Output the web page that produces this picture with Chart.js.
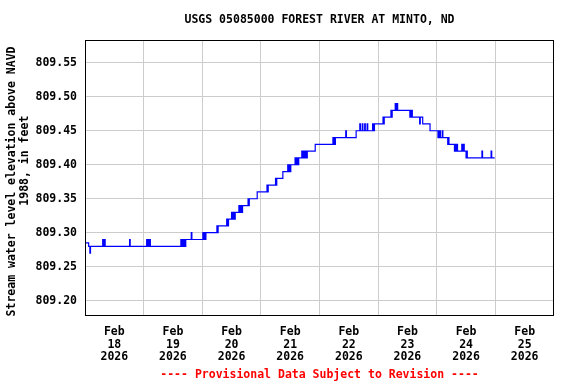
<!DOCTYPE html>
<html>
<head>
<meta charset="utf-8">
<script src="https://cdn.jsdelivr.net/npm/chart.js@4.4.1/dist/chart.umd.min.js"></script>
<style>
  body { margin: 0; background: #fff; }
  #wrap { width: 576px; height: 384px; }
</style>
</head>
<body>
<div id="wrap"><canvas id="myChart" width="576" height="384"></canvas></div>
<script>
// hours since Feb 18 2026 00:00, value holds until the next entry
let hours = [
  0, 1.5, 2.0, 2.25, 7.25, 7.5, 8.0, 8.25, 18.25, 18.5,
  25.25, 25.5, 25.75, 26.25, 26.5, 26.75, 39.25, 39.5, 39.75, 40.0,
  40.25, 40.5, 40.75, 41.0, 41.25, 43.5, 43.75, 48.25, 48.5, 48.75,
  49.25, 49.5, 54.0, 54.25, 54.5, 58.0, 58.25, 58.75, 60.0, 60.25,
  60.5, 60.75, 61.0, 61.25, 61.5, 63.0, 63.25, 63.5, 63.75, 64.0,
  64.25, 64.5, 66.75, 67.0, 67.25, 70.5, 74.5, 74.75, 75.0, 78.0,
  78.25, 78.5, 81.0, 83.0, 83.25, 83.75, 84.0, 84.25, 86.0, 86.25,
  86.5, 86.75, 87.0, 87.25, 87.5, 88.75, 89.0, 89.5, 89.75, 90.25,
  90.5, 91.0, 94.25, 101.5, 101.75, 102.0, 102.25, 102.5, 106.75, 107.0,
  111.0, 112.5, 112.75, 113.5, 113.75, 114.5, 114.75, 115.5, 115.75, 117.75,
  118.0, 118.5, 122.0, 122.25, 122.5, 125.25, 125.5, 125.75, 127.0, 127.25,
  127.75, 128.0, 133.0, 133.25, 133.5, 133.75, 134.0, 137.0, 137.25, 138.25,
  141.25, 144.5, 144.75, 145.0, 145.25, 145.5, 146.25, 146.5, 148.5, 148.75,
  149.0, 151.25, 151.5, 151.75, 152.25, 152.5, 154.25, 154.5, 155.0, 155.25,
  156.0, 156.25, 156.5, 162.5, 162.75, 166.25, 166.5, 167.75
];
let levels = [
  809.285, 809.28, 809.27, 809.28, 809.29, 809.28, 809.29, 809.28, 809.29, 809.28,
  809.29, 809.28, 809.29, 809.28, 809.29, 809.28, 809.29, 809.28, 809.29, 809.28,
  809.29, 809.28, 809.29, 809.28, 809.29, 809.30, 809.29, 809.30, 809.29, 809.30,
  809.29, 809.30, 809.31, 809.30, 809.31, 809.32, 809.31, 809.32, 809.33, 809.32,
  809.33, 809.32, 809.33, 809.32, 809.33, 809.34, 809.33, 809.34, 809.33, 809.34,
  809.33, 809.34, 809.35, 809.34, 809.35, 809.36, 809.37, 809.36, 809.37, 809.38,
  809.37, 809.38, 809.39, 809.40, 809.39, 809.40, 809.39, 809.40, 809.41, 809.40,
  809.41, 809.40, 809.41, 809.40, 809.41, 809.42, 809.41, 809.42, 809.41, 809.42,
  809.41, 809.42, 809.43, 809.44, 809.43, 809.44, 809.43, 809.44, 809.45, 809.44,
  809.45, 809.46, 809.45, 809.46, 809.45, 809.46, 809.45, 809.46, 809.45, 809.46,
  809.45, 809.46, 809.47, 809.46, 809.47, 809.48, 809.47, 809.48, 809.49, 809.48,
  809.49, 809.48, 809.47, 809.48, 809.47, 809.48, 809.47, 809.46, 809.47, 809.46,
  809.45, 809.44, 809.45, 809.44, 809.45, 809.44, 809.45, 809.44, 809.43, 809.44,
  809.43, 809.42, 809.43, 809.42, 809.43, 809.42, 809.43, 809.42, 809.43, 809.42,
  809.41, 809.42, 809.41, 809.42, 809.41, 809.42, 809.41, 809.41
];

let yTicks = [809.20, 809.25, 809.30, 809.35, 809.40, 809.45, 809.50, 809.55];
let dayLabels = ["18", "19", "20", "21", "22", "23", "24", "25"];
let xTicks = [12, 24, 36, 48, 60, 72, 84, 96, 108, 120, 132, 144, 156, 168, 180];

const monoFont = "'DejaVu Sans Mono', 'Liberation Mono', monospace";

const frame = {
  id: "frame",
  afterDatasetsDraw(chart) {
    const { ctx, chartArea: a } = chart;
    const x0 = Math.round(a.left) + 0.5;
    const y0 = Math.round(a.top) + 0.5;
    ctx.save();
    ctx.strokeStyle = "#000";
    ctx.lineWidth = 1;
    ctx.strokeRect(x0, y0, Math.round(a.right) - Math.round(a.left) - 1, Math.round(a.bottom) - Math.round(a.top) - 1);
    ctx.restore();
  },
};

let points = hours.map((h, i) => ({ x: h, y: levels[i] }));

new Chart(document.getElementById("myChart"), {
  type: "line",
  data: {
    datasets: [
      {
        data: points,
        borderColor: "#0000ff",
        borderWidth: 1.2,
        pointRadius: 0,
        stepped: true,
        fill: false,
      },
    ],
  },
  options: {
    responsive: false,
    animation: false,
    layout: { padding: { left: 0, right: 22, top: 0, bottom: 0 } },
    plugins: {
      legend: { display: false },
      tooltip: { enabled: false },
      title: {
        display: true,
        fullSize: false,
        text: "USGS 05085000 FOREST RIVER AT MINTO, ND",
        color: "#000",
        font: { family: monoFont, size: 11.5, weight: "bold", lineHeight: 1.2 },
        padding: { top: 13.3, bottom: 12.9 },
      },
      subtitle: {
        display: true,
        fullSize: false,
        position: "bottom",
        text: "---- Provisional Data Subject to Revision ----",
        color: "#ff0000",
        font: { family: monoFont, size: 11.5, weight: "bold", lineHeight: 1.2 },
        padding: { top: 6.3, bottom: 2.1 },
      },
    },
    scales: {
      x: {
        type: "linear",
        min: 0,
        max: 192,
        afterBuildTicks: (axis) => {
          axis.ticks = xTicks.map((v) => ({ value: v }));
        },
        afterFit: (axis) => {
          axis.height = 45.8;
        },
        grid: {
          drawTicks: false,
          color: (ctx) => (ctx.tick && ctx.tick.value % 24 === 0 ? "#cccccc" : "rgba(0,0,0,0)"),
          lineWidth: 1,
        },
        border: { display: false },
        ticks: {
          autoSkip: false,
          maxRotation: 0,
          padding: 9.5,
          color: "#000",
          font: { family: monoFont, size: 11.5, weight: "bold", lineHeight: 1.11 },
          callback: (v) => (v % 24 === 12 ? ["Feb", dayLabels[(v - 12) / 24], "2026"] : ""),
        },
      },
      y: {
        type: "linear",
        min: 809.1775,
        max: 809.5835,
        afterBuildTicks: (axis) => {
          axis.ticks = yTicks.map((v) => ({ value: v }));
        },
        afterFit: (axis) => {
          axis.width = 85;
        },
        grid: { drawTicks: false, color: "#cccccc", lineWidth: 1 },
        border: { display: false },
        ticks: {
          padding: 8,
          color: "#000",
          font: { family: monoFont, size: 11.5, weight: "bold" },
          callback: (v) => v.toFixed(2),
        },
        title: {
          display: true,
          text: ["Stream water level elevation above NAVD ", "     1988, in feet"],
          color: "#000",
          font: { family: monoFont, size: 11.5, weight: "bold", lineHeight: 1.13 },
          padding: { top: 5.2, bottom: 0 },
        },
      },
    },
  },
  plugins: [frame],
});
</script>
</body>
</html>
